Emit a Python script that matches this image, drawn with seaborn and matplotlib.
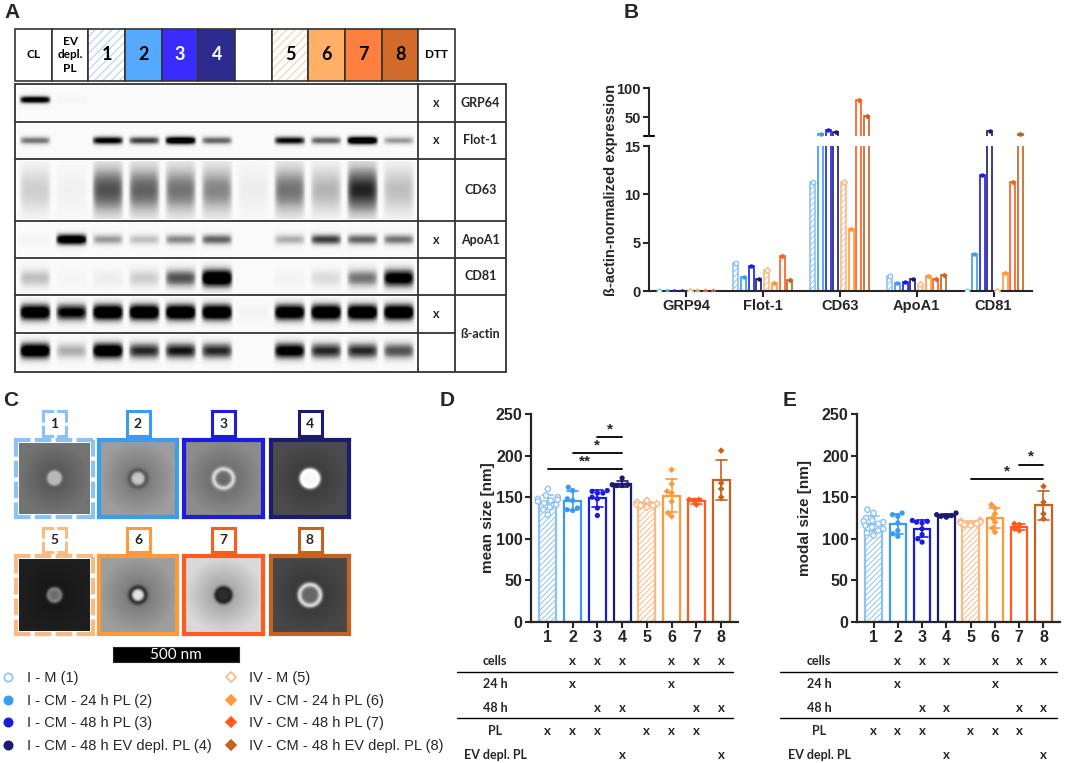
import numpy as np
import pandas as pd
import seaborn as sns
import matplotlib.pyplot as plt
from matplotlib.patches import Rectangle
from matplotlib.lines import Line2D
from matplotlib.transforms import blended_transform_factory

sns.set_style('ticks')
plt.rcParams['font.family'] = ['Liberation Sans', 'DejaVu Sans']
plt.rcParams['font.weight'] = 'bold'
plt.rcParams['hatch.linewidth'] = 0.7

W, H = 1065, 763

# conditions 1-8 and their colours
conds = ['1', '2', '3', '4', '5', '6', '7', '8']
cond_colors = ['#8cc3f2', '#3a9cef', '#1c1ce0', '#1b1b70',
               '#f8bb86', '#ff9a3c', '#ff5a1f', '#c5621f']
pal = dict(zip(conds, cond_colors))
hatched = ['1', '5']

# panel A: western blot
lane_names = ['CL', 'EV\ndepl.\nPL', '1', '2', '3', '4', '', '5', '6', '7', '8', 'DTT']
header_fill = ['white', 'white', 'white', '#55aaff', '#3a2cff', '#2e2b8f',
               'white', 'white', '#ffb066', '#ff7f3f', '#d26a2a', 'white']
blot_labels = ['GRP64', 'Flot-1', 'CD63', 'ApoA1', 'CD81', 'ß-actin', '']
dtt_marks = ['x', 'x', '', 'x', '', 'x', '']
# band strength per lane: CL, EV depl. PL, 1, 2, 3, 4, empty, 5, 6, 7, 8
grp64_bands = [0.85, 0.04, 0, 0, 0, 0, 0, 0, 0, 0, 0]
flot1_bands = [0.45, 0.0, 0.8, 0.6, 0.95, 0.5, 0.0, 0.75, 0.5, 1.0, 0.35]
cd63_bands = [0.2, 0.06, 0.55, 0.5, 0.45, 0.4, 0.08, 0.45, 0.28, 0.65, 0.25]
apoa1_bands = [0.04, 0.95, 0.35, 0.25, 0.4, 0.5, 0.0, 0.3, 0.6, 0.5, 0.45]
cd81_bands = [0.25, 0.04, 0.08, 0.2, 0.55, 1.0, 0.0, 0.05, 0.15, 0.45, 0.85]
actin_a_bands = [0.95, 0.8, 1.0, 1.0, 1.0, 1.0, 0.05, 0.95, 1.0, 1.0, 1.0]
actin_b_bands = [0.95, 0.3, 0.95, 0.65, 0.7, 0.65, 0.0, 0.85, 0.65, 0.65, 0.55]

# panel B: ß-actin-normalized expression (one value per condition 1-8)
b_markers = ['GRP94', 'Flot-1', 'CD63', 'ApoA1', 'CD81']
grp94 = [0.05, 0.05, 0.05, 0.05, 0.05, 0.05, 0.05, 0.05]
flot1 = [2.9, 1.45, 2.6, 1.2, 2.2, 0.8, 3.6, 1.1]
cd63 = [11.3, 21, 28, 25, 11.3, 6.4, 80, 52]
apoa1 = [1.55, 0.85, 0.95, 1.25, 0.75, 1.6, 1.25, 1.7]
cd81 = [0.05, 3.8, 12.0, 26, 0.05, 1.85, 11.3, 22]

# panel C legend
legend_labels = ['I - M (1)', 'I - CM - 24 h PL (2)', 'I - CM - 48 h PL (3)',
                 'I - CM - 48 h EV depl. PL (4)', 'IV - M (5)', 'IV - CM - 24 h PL (6)',
                 'IV - CM - 48 h PL (7)', 'IV - CM - 48 h EV depl. PL (8)']

# panel D: mean size [nm]
mean_size = [[160, 152, 150, 148, 147, 146, 145, 143, 141, 138, 135, 129],
             [162, 158, 148, 146, 135, 134, 137],
             [158, 157, 155, 150, 148, 137, 128, 155],
             [173, 165, 164, 165, 164],
             [146, 144, 142, 141, 140, 138, 140],
             [183, 166, 157, 145, 131, 127, 155],
             [147, 147, 146, 141],
             [206, 167, 160, 150]]
sig_d = [(0, 3, 184, '**'), (1, 3, 203, '*'), (2, 3, 222, '*')]

# panel E: modal size [nm]
modal_size = [[135, 131, 125, 122, 121, 120, 118, 116, 114, 112, 110, 107, 104],
              [131, 129, 127, 119, 110, 103, 106],
              [122, 121, 120, 119, 112, 100, 96, 105],
              [131, 129, 128, 127, 126],
              [122, 121, 120, 119, 118, 117, 116],
              [141, 137, 130, 125, 120, 113, 108],
              [118, 117, 112, 110],
              [163, 144, 130, 124]]
sig_e = [(4, 7, 172, '*'), (6, 7, 189, '*')]

# condition table under D and E
table_rows = ['cells', '24 h', '48 h', 'PL', 'EV depl. PL']
cells = [0, 1, 1, 1, 0, 1, 1, 1]
h24 = [0, 1, 0, 0, 0, 1, 0, 0]
h48 = [0, 0, 1, 1, 0, 0, 1, 1]
pl = [1, 1, 1, 0, 1, 1, 1, 0]
ev_pl = [0, 0, 0, 1, 0, 0, 0, 1]

fig = plt.figure(figsize=(W / 100, H / 100), dpi=100)


def px_axes(x0, y0, x1, y1):
    return fig.add_axes([x0 / W, 1 - y1 / H, (x1 - x0) / W, (y1 - y0) / H])


def panel_letter(x, y, s):
    fig.text(x / W, 1 - y / H, s, fontsize=15, weight='bold', ha='left', va='center')


# ---------------- A ----------------
panel_letter(4, 12, 'A')
axh = px_axes(15, 29, 455, 81)
axh.set_xlim(0, 12)
axh.set_ylim(0, 1)
axh.axis('off')
for i, (name, fc) in enumerate(zip(lane_names, header_fill)):
    if name in hatched:
        hc = '#aacdf0' if name == '1' else '#f5c9a5'
        axh.add_patch(Rectangle((i, 0), 1, 1, facecolor='white', edgecolor=hc,
                                hatch='////', lw=0, clip_on=False))
    else:
        axh.add_patch(Rectangle((i, 0), 1, 1, facecolor=fc, lw=0, clip_on=False))
    axh.add_patch(Rectangle((i, 0), 1, 1, fill=False, edgecolor='#333333', lw=1.2, clip_on=False))
    tc = 'white' if name in ('3', '4') else 'black'
    axh.text(i + 0.5, 0.5, name, ha='center', va='center', color=tc, family='Lato',
             weight='bold', fontsize=13 if name.isdigit() else 8.5, linespacing=1.25)

row_bounds = [84, 122, 159, 221, 258, 295, 333, 372]
band_levels = [grp64_bands, flot1_bands, cd63_bands, apoa1_bands, cd81_bands,
               actin_a_bands, actin_b_bands]
band_shape = [(0.6, 0.08), (0.5, 0.09), (0.5, 0.3), (0.5, 0.12), (0.45, 0.2),
              (0.55, 0.18), (0.55, 0.17)]


def blot_image(levels, centre, spread):
    v = np.linspace(1, 0, 40)[:, None]
    u = np.linspace(0, 1, 24)
    edge = np.clip(1 - ((u - 0.5) / 0.47) ** 6, 0, 1)
    prof = np.exp(-0.5 * ((v - centre) / spread) ** 2)
    img = np.hstack([1.3 * lv * prof * edge for lv in levels])
    return 0.04 + img


for k in range(7):
    top, bot = row_bounds[k], row_bounds[k + 1]
    axb = px_axes(17, top + 2, 417, bot - 2)
    c, s = band_shape[k]
    axb.imshow(blot_image(band_levels[k], c, s), cmap='Greys', vmin=0, vmax=1,
               aspect='auto', extent=(0, 11, 0, 1), interpolation='bilinear')
    axb.axis('off')

axf = px_axes(15, 84, 506, 372)
axf.set_xlim(15, 506)
axf.set_ylim(372, 84)
axf.axis('off')
axf.add_patch(Rectangle((15, 84), 491, 288, fill=False, lw=1.3, edgecolor='#333333', clip_on=False))
for xv in (418, 455):
    axf.plot([xv, xv], [84, 372], color='#333333', lw=1.3)
for k, yb in enumerate(row_bounds[1:-1]):
    x_end = 455 if yb == 333 else 506
    axf.plot([15, x_end], [yb, yb], color='#333333', lw=1.3)
for k in range(7):
    yc = (row_bounds[k] + row_bounds[k + 1]) / 2
    if dtt_marks[k]:
        axf.text(436.5, yc, dtt_marks[k], ha='center', va='center', family='Lato',
                 weight='bold', fontsize=9)
    if blot_labels[k]:
        if blot_labels[k] == 'ß-actin':
            yc = (row_bounds[5] + row_bounds[7]) / 2
        axf.text(480.5, yc, blot_labels[k], ha='center', va='center', family='Lato',
                 weight='bold', fontsize=9)

# ---------------- B ----------------
panel_letter(624, 12, 'B')
b_values = [grp94, flot1, cd63, apoa1, cd81]
dfB = pd.DataFrame([(m, c, v) for m, vals in zip(b_markers, b_values)
                    for c, v in zip(conds, vals)], columns=['marker', 'cond', 'value'])
ax_top = px_axes(649, 88, 1032, 136)
ax_low = px_axes(649, 146, 1032, 291)
marker_styles = [(['1'], 'o', True), (['2', '3', '4'], 'o', False),
                 (['5'], 'D', True), (['6', '7', '8'], 'D', False)]
for ax in (ax_top, ax_low):
    sns.barplot(data=dfB, x='marker', y='value', hue='cond', order=b_markers,
                hue_order=conds, palette=pal, fill=False, gap=0.35, linewidth=1.2,
                errorbar=None, legend=False, ax=ax)
    for c, cont in zip(conds, ax.containers):
        if c in hatched:
            for p in cont:
                p.set_hatch('//////')
    for group, mk, hollow in marker_styles:
        n0 = len(ax.collections)
        sns.stripplot(data=dfB[dfB['cond'].isin(group)], x='marker', y='value', hue='cond',
                      order=b_markers, hue_order=conds, palette=pal, dodge=True,
                      jitter=False, marker=mk, size=3.2 if mk == 'o' else 3.0,
                      legend=False, ax=ax)
        if hollow:
            for coll in ax.collections[n0:]:
                coll.set_edgecolor(coll.get_facecolor())
                coll.set_facecolor('white')
                coll.set_linewidth(1)
    ax.set_xlim(-0.48, 4.5)
    ax.set_xlabel('')
    ax.set_ylabel('')
    for sp in ('top', 'right'):
        ax.spines[sp].set_visible(False)
    ax.spines['left'].set_linewidth(1.5)
    ax.spines['bottom'].set_linewidth(1.5)
    ax.tick_params(width=1.5, length=4, labelsize=10.5, pad=2)

ax_top.set_ylim(18, 100)
ax_top.set_yticks([50, 100])
ax_top.spines['bottom'].set_visible(False)
ax_top.set_xticks([])
ax_low.set_ylim(0, 15)
ax_low.set_yticks([0, 5, 10, 15])
ax_low.set_xticks(range(5))
ax_low.set_xticklabels(b_markers)
ax_top.plot([-0.012, 0.012], [0, 0], transform=ax_top.transAxes, color='k', lw=1.5, clip_on=False)
fig.text(611 / W, 1 - 190 / H, 'ß-actin-normalized expression', rotation=90,
         ha='center', va='center', fontsize=10.5, weight='bold')

# ---------------- C ----------------
panel_letter(3, 400, 'C')
em_x = [(16, 93), (99, 177), (184, 263), (271, 349)]
em_y = [(440, 517), (556, 634)]
box_y = [(411, 436), (528, 552)]
em_bg = [0.45, 0.62, 0.55, 0.3, 0.12, 0.62, 0.85, 0.28]
em_ring = [0.72, 0.35, 0.85, 1.0, 0.5, 0.2, 0.15, 0.85]
em_core = [0.72, 0.78, 0.42, 0.97, 0.42, 0.9, 0.18, 0.4]
em_rad = [0.16, 0.22, 0.25, 0.22, 0.17, 0.2, 0.18, 0.27]


def em_image(bg, ring, core, rad):
    y, x = np.mgrid[-1:1:90j, -1:1:90j]
    r = np.hypot(x, y)
    img = bg * (0.7 + 0.3 * np.clip(r, 0, 1))
    img = np.where(r < rad, core, img)
    img = img + (ring - img) * np.exp(-0.5 * ((r - rad) / 0.045) ** 2)
    return img


for k, c in enumerate(conds):
    row, col = divmod(k, 4)
    x0, x1 = em_x[col]
    y0, y1 = em_y[row]
    xc = (x0 + x1) / 2
    by0, by1 = box_y[row]
    if c in hatched:
        # dashed frame drawn around a slightly smaller image
        axi = px_axes(x0 + 3, y0 + 3, x1 - 3, y1 - 3)
        frame = px_axes(x0, y0, x1, y1)
        frame.patch.set_alpha(0)
    else:
        axi = px_axes(x0, y0, x1, y1)
        frame = axi
    axi.imshow(em_image(em_bg[k], em_ring[k], em_core[k], em_rad[k]), cmap='gray',
               vmin=0, vmax=1, aspect='auto', interpolation='bilinear')
    axi.set_xticks([])
    axi.set_yticks([])
    axn = px_axes(xc - 11.5, by0, xc + 11.5, by1)
    axn.set_xticks([])
    axn.set_yticks([])
    axn.text(0.5, 0.5, c, ha='center', va='center', family='Lato', weight='bold',
             fontsize=10, transform=axn.transAxes)
    frame.set_xticks([])
    frame.set_yticks([])
    if frame is not axi:
        for sp in axi.spines.values():
            sp.set_visible(False)
    for a, lw in ((frame, 3.0), (axn, 2.2)):
        for sp in a.spines.values():
            sp.set_color(cond_colors[k])
            sp.set_linewidth(lw)
            if c in hatched:
                sp.set_linestyle((0, (3, 2)))

axs = px_axes(113, 647, 239, 662)
axs.set_facecolor('black')
axs.set_xticks([])
axs.set_yticks([])
axs.text(0.5, 0.45, '500 nm', color='white', ha='center', va='center', family='Lato',
         weight='normal', fontsize=11, transform=axs.transAxes)

handles = []
for c, col in zip(conds, cond_colors):
    mk = 'o' if c in ('1', '2', '3', '4') else 'D'
    handles.append(Line2D([], [], ls='', marker=mk, markersize=6 if mk == 'o' else 5,
                          markerfacecolor='white' if c in hatched else col,
                          markeredgecolor=col, markeredgewidth=1.2))
fig.legend(handles, legend_labels, ncol=2, loc='upper left',
           bbox_to_anchor=(2 / W, 1 - 671 / H), frameon=False,
           prop={'family': 'Liberation Sans', 'weight': 'normal', 'size': 10.5},
           handlelength=0.8, handletextpad=0.9, columnspacing=0.9, labelspacing=0.6,
           borderaxespad=0, borderpad=0)


# ---------------- D / E ----------------
def size_panel(ax, points, sig):
    df = pd.DataFrame([(c, v) for c, vals in zip(conds, points) for v in vals],
                      columns=['cond', 'size'])
    sns.barplot(data=df, x='cond', y='size', hue='cond', order=conds, hue_order=conds,
                palette=pal, fill=False, errorbar='sd', capsize=0.45, width=0.68,
                linewidth=1.6, err_kws={'linewidth': 1.2}, legend=False, ax=ax)
    for c, cont in zip(conds, ax.containers):
        if c in hatched:
            for p in cont:
                p.set_hatch('//////')
    for group, mk, hollow in marker_styles:
        n0 = len(ax.collections)
        sns.swarmplot(data=df[df['cond'].isin(group)], x='cond', y='size', hue='cond',
                      order=conds, hue_order=conds, palette=pal, marker=mk,
                      size=3.8 if mk == 'o' else 3.4, legend=False, ax=ax)
        if hollow:
            for coll in ax.collections[n0:]:
                coll.set_edgecolor(coll.get_facecolor())
                coll.set_facecolor('white')
                coll.set_linewidth(1)
    for x0, x1, yv, star in sig:
        ax.plot([x0, x1], [yv, yv], color='k', lw=1.3)
        ax.text((x0 + x1) / 2, yv + 1, star, ha='center', va='bottom', fontsize=11, weight='bold')
    ax.set_ylim(0, 250)
    ax.set_yticks(range(0, 251, 50))
    ax.set_xlim(-0.68, 7.68)
    ax.set_xlabel('')
    ax.set_ylabel('')
    for sp in ('top', 'right'):
        ax.spines[sp].set_visible(False)
    ax.spines['left'].set_linewidth(1.6)
    ax.spines['bottom'].set_linewidth(1.6)
    ax.tick_params(width=1.5, length=4, labelsize=11.5, pad=2)


def cond_table(ax, lab_x, line_x0, line_x1):
    tr = blended_transform_factory(ax.transData, fig.transFigure)
    table_y = [661, 684, 708, 731, 755]
    for name, marks, yp in zip(table_rows, [cells, h24, h48, pl, ev_pl], table_y):
        fig.text(lab_x / W, 1 - yp / H, name, ha='center', va='center', family='Lato',
                 weight='bold', fontsize=9)
        for k, m in enumerate(marks):
            if m:
                ax.text(k, 1 - yp / H, 'x', transform=tr, ha='center', va='center',
                        family='Lato', weight='bold', fontsize=9.5)
    for yl in (672, 718):
        fig.add_artist(Line2D([line_x0 / W, line_x1 / W], [1 - yl / H] * 2, color='k', lw=1))


panel_letter(440, 400, 'D')
ax_d = px_axes(531, 414, 738, 622)
size_panel(ax_d, mean_size, sig_d)
fig.text(488 / W, 1 - 518 / H, 'mean size [nm]', rotation=90, ha='center', va='center',
         fontsize=11, weight='bold')
cond_table(ax_d, 495, 457, 733)

panel_letter(783, 400, 'E')
ax_e = px_axes(857, 414, 1060, 622)
size_panel(ax_e, modal_size, sig_e)
fig.text(805 / W, 1 - 518 / H, 'modal size [nm]', rotation=90, ha='center', va='center',
         fontsize=11, weight='bold')
cond_table(ax_e, 819, 780, 1057)

fig.savefig('out.png', dpi=100)
